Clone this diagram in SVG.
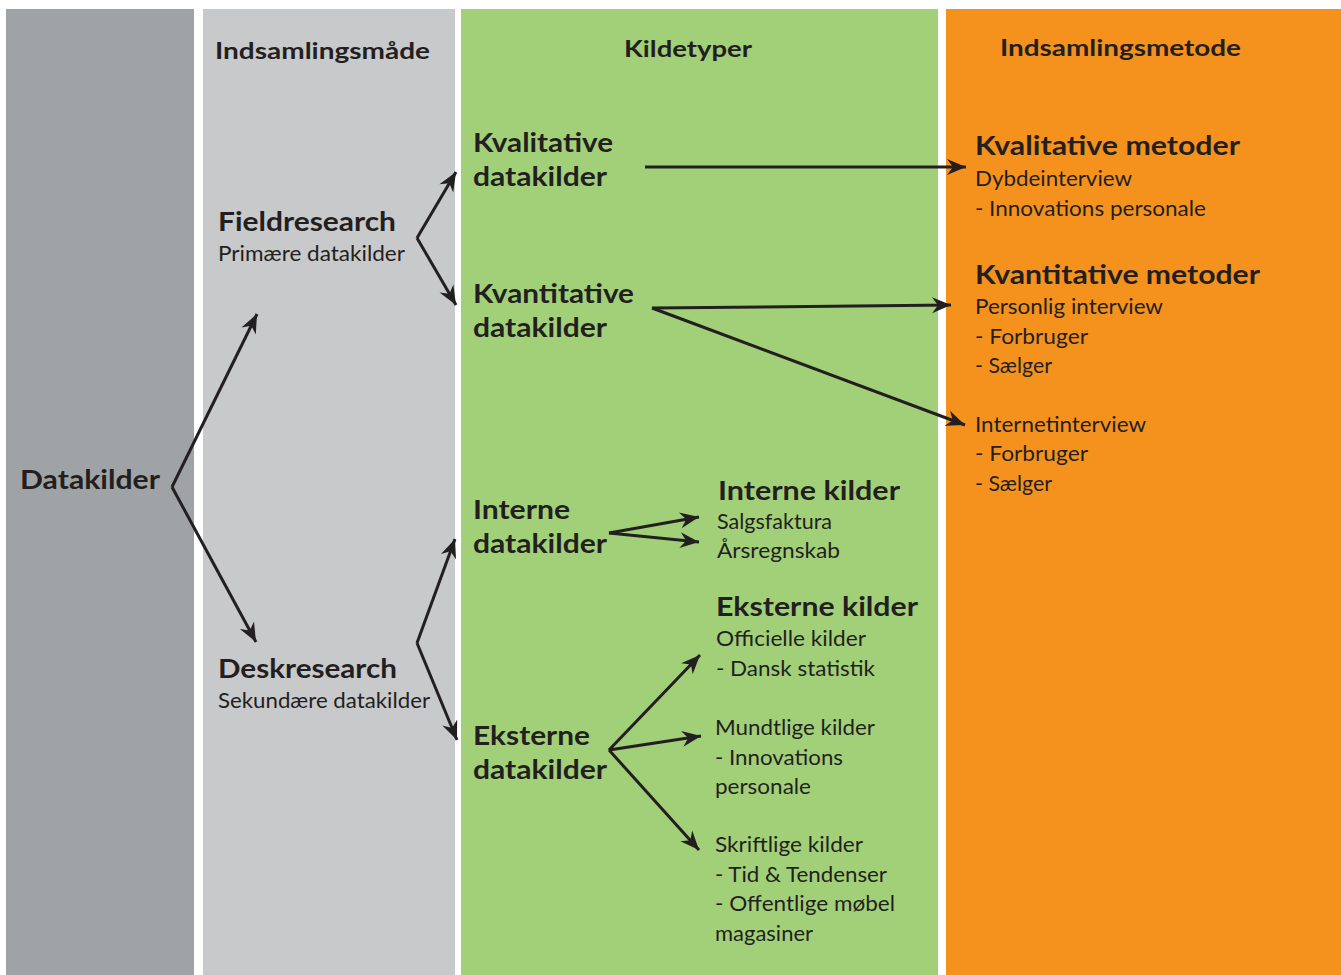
<svg xmlns="http://www.w3.org/2000/svg" width="1341" height="975" viewBox="0 0 1341 975">
<style>
text{font-family:Lato,"Open Sans","Liberation Sans",sans-serif;fill:#231f20}
.h{font-size:22px;font-weight:bold}
.t{font-size:26px;font-weight:bold}
.b{font-size:21px}
.c{stroke:#231f20;stroke-width:3;fill:none;marker-end:url(#ah)}
</style>
<defs>
<marker id="ah" markerUnits="userSpaceOnUse" viewBox="-20 -10 22 20" refX="0" refY="0" markerWidth="22" markerHeight="20" orient="auto">
<path d="M0,0 L-19,-8 L-13,0 L-19,8 Z" fill="#231f20"/>
</marker>
</defs>
<rect width="1341" height="975" fill="#fff"/>
<g id="columns">
<rect x="6" y="9" width="188" height="966" fill="#9fa3a6"/>
<rect x="203" y="9" width="252" height="966" fill="#c8c9cb"/>
<rect x="461" y="9" width="477" height="966" fill="#a2d078"/>
<rect x="946" y="9" width="395" height="966" fill="#f5921e"/>
</g>
<g id="headers">
<text class="h" x="215" y="59" textLength="215" lengthAdjust="spacingAndGlyphs">Indsamlingsmåde</text>
<text class="h" x="624" y="57" textLength="128" lengthAdjust="spacingAndGlyphs">Kildetyper</text>
<text class="h" x="1000" y="56" textLength="241" lengthAdjust="spacingAndGlyphs">Indsamlingsmetode</text>
</g>
<g id="datakilder"><text class="t" x="20" y="489" textLength="140" lengthAdjust="spacingAndGlyphs">Datakilder</text></g>
<g id="fieldresearch">
<text class="t" x="218" y="231" textLength="178" lengthAdjust="spacingAndGlyphs">Fieldresearch</text>
<text class="b" x="218" y="261" textLength="187" lengthAdjust="spacingAndGlyphs">Primære datakilder</text>
</g>
<g id="deskresearch">
<text class="t" x="218" y="678" textLength="179" lengthAdjust="spacingAndGlyphs">Deskresearch</text>
<text class="b" x="218" y="708" textLength="212" lengthAdjust="spacingAndGlyphs">Sekundære datakilder</text>
</g>
<g id="kvalitative">
<text class="t" x="473" y="152" textLength="140" lengthAdjust="spacingAndGlyphs">Kvalitative</text>
<text class="t" x="473" y="186" textLength="134" lengthAdjust="spacingAndGlyphs">datakilder</text>
</g>
<g id="kvantitative">
<text class="t" x="473" y="303" textLength="161" lengthAdjust="spacingAndGlyphs">Kvantitative</text>
<text class="t" x="473" y="337" textLength="134" lengthAdjust="spacingAndGlyphs">datakilder</text>
</g>
<g id="interne">
<text class="t" x="473" y="519" textLength="97" lengthAdjust="spacingAndGlyphs">Interne</text>
<text class="t" x="473" y="553" textLength="134" lengthAdjust="spacingAndGlyphs">datakilder</text>
</g>
<g id="eksterne">
<text class="t" x="473" y="745" textLength="117" lengthAdjust="spacingAndGlyphs">Eksterne</text>
<text class="t" x="473" y="779" textLength="134" lengthAdjust="spacingAndGlyphs">datakilder</text>
</g>
<g id="interne-kilder">
<text class="t" x="718" y="500" textLength="182" lengthAdjust="spacingAndGlyphs">Interne kilder</text>
<text class="b" x="717" y="529" textLength="115" lengthAdjust="spacingAndGlyphs">Salgsfaktura</text>
<text class="b" x="717" y="558" textLength="123" lengthAdjust="spacingAndGlyphs">Årsregnskab</text>
</g>
<g id="eksterne-kilder">
<text class="t" x="716" y="616" textLength="202" lengthAdjust="spacingAndGlyphs">Eksterne kilder</text>
<text class="b" x="716" y="646" textLength="150" lengthAdjust="spacingAndGlyphs">Officielle kilder</text>
<text class="b" x="716" y="676" textLength="159" lengthAdjust="spacingAndGlyphs">- Dansk statistik</text>
</g>
<g id="mundtlige">
<text class="b" x="715" y="735" textLength="160" lengthAdjust="spacingAndGlyphs">Mundtlige kilder</text>
<text class="b" x="715" y="765" textLength="128" lengthAdjust="spacingAndGlyphs">- Innovations</text>
<text class="b" x="715" y="794" textLength="96" lengthAdjust="spacingAndGlyphs">personale</text>
</g>
<g id="skriftlige">
<text class="b" x="715" y="852" textLength="148" lengthAdjust="spacingAndGlyphs">Skriftlige kilder</text>
<text class="b" x="715" y="882" textLength="172" lengthAdjust="spacingAndGlyphs">- Tid &amp; Tendenser</text>
<text class="b" x="715" y="911" textLength="180" lengthAdjust="spacingAndGlyphs">- Offentlige møbel</text>
<text class="b" x="715" y="941" textLength="98" lengthAdjust="spacingAndGlyphs">magasiner</text>
</g>
<g id="kvalitative-metoder">
<text class="t" x="975" y="155" textLength="265" lengthAdjust="spacingAndGlyphs">Kvalitative metoder</text>
<text class="b" x="975" y="186" textLength="157" lengthAdjust="spacingAndGlyphs">Dybdeinterview</text>
<text class="b" x="975" y="216" textLength="231" lengthAdjust="spacingAndGlyphs">- Innovations personale</text>
</g>
<g id="kvantitative-metoder">
<text class="t" x="975" y="284" textLength="285" lengthAdjust="spacingAndGlyphs">Kvantitative metoder</text>
<text class="b" x="975" y="314" textLength="188" lengthAdjust="spacingAndGlyphs">Personlig interview</text>
<text class="b" x="975" y="344" textLength="113" lengthAdjust="spacingAndGlyphs">- Forbruger</text>
<text class="b" x="975" y="373" textLength="77" lengthAdjust="spacingAndGlyphs">- Sælger</text>
</g>
<g id="internetinterview">
<text class="b" x="975" y="432" textLength="171" lengthAdjust="spacingAndGlyphs">Internetinterview</text>
<text class="b" x="975" y="461" textLength="113" lengthAdjust="spacingAndGlyphs">- Forbruger</text>
<text class="b" x="975" y="491" textLength="77" lengthAdjust="spacingAndGlyphs">- Sælger</text>
</g>
<g id="connectors">
<path class="c" d="M172,487 L257,314"/>
<path class="c" d="M172,487 L256,642"/>
<path class="c" d="M417,238 L456,172"/>
<path class="c" d="M417,238 L456,305"/>
<path class="c" d="M417,643 L455,539"/>
<path class="c" d="M417,643 L457,740"/>
<path class="c" d="M645,167 L966,167"/>
<path class="c" d="M652,308 L951,305"/>
<path class="c" d="M652,308 L965,425"/>
<path class="c" d="M609,533 L699,517"/>
<path class="c" d="M609,533 L699,542"/>
<path class="c" d="M609,750 L700,655"/>
<path class="c" d="M609,750 L701,736"/>
<path class="c" d="M609,750 L699,850"/>
</g>
</svg>
